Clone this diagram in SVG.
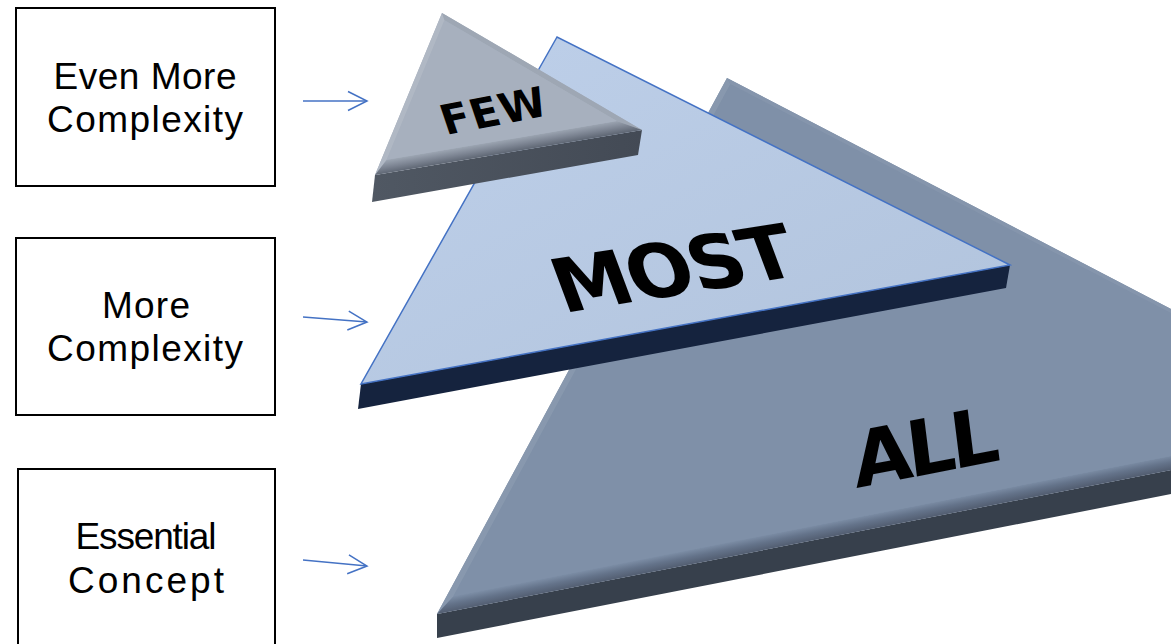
<svg xmlns="http://www.w3.org/2000/svg" width="1171" height="644" viewBox="0 0 1171 644">
<style>
.box{fill:#fff;stroke:#000;stroke-width:2}
.lbl{font-family:"Liberation Sans","Open Sans",sans-serif;font-size:37px;fill:#000;text-anchor:middle}
.conn{stroke:#4472C4;stroke-width:1.5;fill:none}
.tri{font-family:"DejaVu Sans","Liberation Sans",sans-serif;font-weight:bold;fill:#000;text-anchor:middle}
</style>
<defs>
<marker id="arr" markerUnits="userSpaceOnUse" markerWidth="24" markerHeight="24" refX="19" refY="10" orient="auto" overflow="visible">
<path d="M0,0.5 L19,10 L0,19.5" fill="none" stroke="#4472C4" stroke-width="1.5"/>
</marker>
<linearGradient id="allBev" gradientUnits="userSpaceOnUse" x1="912" y1="506.7" x2="914.7" y2="520.4">
<stop offset="0" stop-color="#7A8BA3"/><stop offset="0.45" stop-color="#64738A"/><stop offset="1" stop-color="#525D70"/>
</linearGradient>
<linearGradient id="fewBev" gradientUnits="userSpaceOnUse" x1="501.7" y1="140.4" x2="503.9" y2="153.3">
<stop offset="0" stop-color="#9CA5B2"/><stop offset="0.5" stop-color="#7E8694"/><stop offset="1" stop-color="#5E6673"/>
</linearGradient>
<linearGradient id="mostFace" x1="0" y1="0" x2="1" y2="1">
<stop offset="0" stop-color="#BED0EA"/><stop offset="1" stop-color="#B1C3DC"/>
</linearGradient>
<linearGradient id="fewSide" x1="0" y1="0" x2="1" y2="0">
<stop offset="0" stop-color="#505863"/><stop offset="1" stop-color="#434A55"/>
</linearGradient>
</defs>

<g id="tri-all">
<polygon points="437,614 1396,426 1396,450 437,638" fill="#37404C"/>
<polygon points="727,78 437,614 1396,426" fill="#7F90A8"/>
<polygon points="727,78 437,614 453.3,596.4 730.4,84.3" fill="#8898AE"/>
<polygon points="727,78 1396,426 1370.4,417 730.4,84.3" fill="#8595AC"/>
<polygon points="437,614 1396,426 1370.4,417 453.3,596.4" fill="url(#allBev)"/>
<polygon points="730.4,84.3 453.3,596.4 1370.4,417" fill="#7F90A8"/>
<text class="tri" font-size="77" textLength="148" lengthAdjust="spacing" transform="matrix(0.982 -0.19 0.124 0.992 929 474)">ALL</text>
</g>

<g id="tri-most">
<polygon points="361,384 1010,265 1006,288 358,409" fill="#15233E"/>
<polygon points="557,37 361,384 1010,265" fill="url(#mostFace)" stroke="#4472C4" stroke-width="1.5" stroke-linejoin="miter"/>
<text class="tri" font-size="77" textLength="242" lengthAdjust="spacing" transform="matrix(0.988 -0.158 0.35 0.937 683 294)">MOST</text>
</g>

<g id="tri-few">
<polygon points="375,175 642,130 638,155 372,202" fill="url(#fewSide)"/>
<polygon points="442,13 375,175 642,130" fill="#A7B0BE"/>
<polygon points="442,13 375,175 386.7,159.8 444.5,20.2" fill="#B0B8C4"/>
<polygon points="442,13 642,130 616.8,121.1 444.5,20.2" fill="#9EA7B4"/>
<polygon points="375,175 642,130 616.8,121.1 386.7,159.8" fill="url(#fewBev)"/>
<polygon points="444.5,20.2 386.7,159.8 616.8,121.1" fill="#A7B0BE"/>
<text class="tri" font-size="42" textLength="106" lengthAdjust="spacing" transform="matrix(0.982 -0.19 0.32 0.95 498 125)">FEW</text>
</g>

<g id="box-even-more">
<rect class="box" x="16" y="8" width="259" height="178"/>
<text class="lbl" x="145" y="88.5" textLength="183" lengthAdjust="spacing">Even More</text>
<text class="lbl" x="145" y="131.5" textLength="196" lengthAdjust="spacing">Complexity</text>
</g>
<g id="box-more">
<rect class="box" x="16" y="238" width="259" height="177"/>
<text class="lbl" x="146" y="317.5" textLength="88" lengthAdjust="spacing">More</text>
<text class="lbl" x="145" y="361" textLength="196" lengthAdjust="spacing">Complexity</text>
</g>
<g id="box-essential">
<rect class="box" x="18" y="469" width="257" height="200"/>
<text class="lbl" x="146" y="549" textLength="141" lengthAdjust="spacing">Essential</text>
<text class="lbl" x="146" y="592.5" textLength="156" lengthAdjust="spacing">Concept</text>
</g>

<g id="connectors">
<line class="conn" x1="303" y1="101" x2="367" y2="101" marker-end="url(#arr)"/>
<line class="conn" x1="303" y1="317" x2="367" y2="322" marker-end="url(#arr)"/>
<line class="conn" x1="303" y1="560" x2="367" y2="566" marker-end="url(#arr)"/>
</g>
</svg>
